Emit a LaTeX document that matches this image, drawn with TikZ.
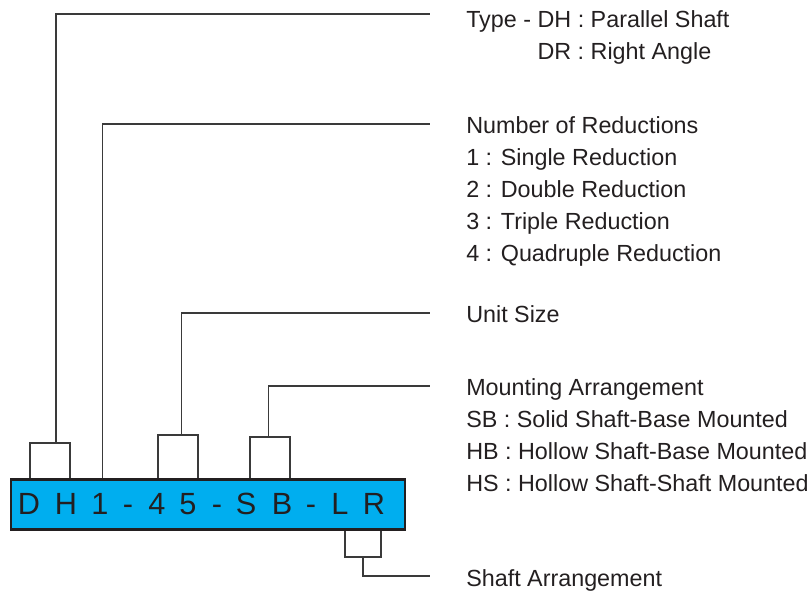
\documentclass[tikz,border=0pt]{standalone}
\usepackage{fontspec}
\setmainfont{Liberation Sans}
\usepackage{tikz}
\usetikzlibrary{positioning}
\definecolor{CodeBlue}{HTML}{00AEEF}
\definecolor{CodeInk}{HTML}{231F20}
\definecolor{LeadGray}{HTML}{3A3A3A}

\begin{document}
\begin{tikzpicture}[
  x=0.75pt,y=-0.75pt,
  codebox/.style={draw=CodeInk,line width=2.2pt,fill=CodeBlue,minimum width=295.5pt,minimum height=37.5pt,inner sep=0pt},
  codechar/.style={anchor=base,inner sep=0pt,text=CodeInk,font=\fontsize{23pt}{27pt}\selectfont},
  bracket/.style={draw=LeadGray,line width=1pt,inner sep=0pt,fill=white},
  lead/.style={draw=LeadGray,line width=1pt},
  legend/.style={anchor=north west,inner sep=0pt,align=left,text=CodeInk,font=\fontsize{17.5pt}{24pt}\selectfont}
]
\useasboundingbox (0,0) rectangle (811,595);
\node[bracket,minimum width=30pt,minimum height=27pt] (brk1) at (50,461) {};
\node[bracket,minimum width=30pt,minimum height=33pt] (brk3) at (178,457) {};
\node[bracket,minimum width=30pt,minimum height=31.5pt] (brk4) at (270,458) {};
\node[bracket,minimum width=27pt,minimum height=21pt] (brk5) at (363,543) {};
\node[codebox] (code) at (208,504.5) {};
\foreach \ch/\x [count=\i] in {D/29,H/66,1/100,-/128,4/157,5/188,-/217,S/246,B/282,-/311,L/340,R/374}
  \node[codechar] (ch\i) at (\x,514) {\ch};
\coordinate (typeend) at (430,14);
\coordinate (redend) at (430,124);
\coordinate (sizeend) at (430,313);
\coordinate (mountend) at (430,386);
\coordinate (shaftend) at (430,576);
\draw[lead] ([xshift=4.5pt]brk1.north) |- (typeend);
\draw[lead] ([xshift=69.75pt]code.north west) |- (redend);
\draw[lead] ([xshift=2.6pt]brk3.north) |- (sizeend);
\draw[lead] ([xshift=-1pt]brk4.north) |- (mountend);
\draw[lead] (brk5.south) |- (shaftend);
\node[legend] (type) at (466,10.2) {Type - DH : Parallel Shaft\\\phantom{Type - }DR : Right Angle};
\node[legend] (reduc) at (466,116.2) {Number of Reductions\\1 : Single Reduction\\2 : Double Reduction\\3 : Triple Reduction\\4 : Quadruple Reduction};
\node[legend] (size) at (466,305) {Unit Size};
\node[legend] (mount) at (466,378) {Mounting Arrangement\\SB : Solid Shaft-Base Mounted\\HB : Hollow Shaft-Base Mounted\\HS : Hollow Shaft-Shaft Mounted};
\node[legend] (shaftarr) at (466,569) {Shaft Arrangement};
\end{tikzpicture}
\end{document}
